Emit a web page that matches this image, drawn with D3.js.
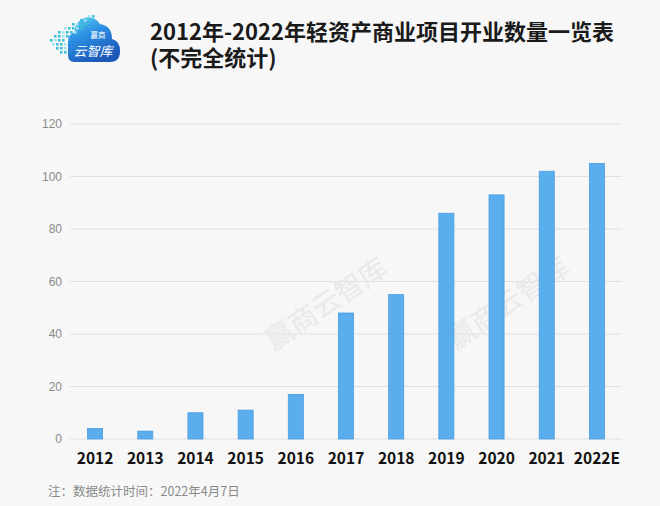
<!DOCTYPE html>
<html><head><meta charset="utf-8">
<script src="https://cdn.jsdelivr.net/npm/d3@7"></script>
<style>
html,body{margin:0;padding:0;background:#f7f7f7;}
svg{display:block;}
</style></head>
<body>
<script>
const categories = ["2012","2013","2014","2015","2016","2017","2018","2019","2020","2021","2022E"];
const values = [4,3,10,11,17,48,55,86,93,102,105];
const yTicks = [0,20,40,60,80,100,120];
const titleLines = ["2012年-2022年轻资产商业项目开业数量一览表","(不完全统计)"];
const footnote = "注：数据统计时间：2022年4月7日";
const watermarkText = "赢商云智库";

const W = 660, H = 506;
const svg = d3.select("body").append("svg").attr("width", W).attr("height", H);
svg.append("rect").attr("width", W).attr("height", H).attr("fill", "#f7f7f7");

const defs = svg.append("defs");
const g1 = defs.append("linearGradient").attr("id","cloudGrad").attr("x1","0").attr("y1","0").attr("x2","0.5").attr("y2","1");
g1.append("stop").attr("offset","0").attr("stop-color","#62d2f4");
g1.append("stop").attr("offset","0.45").attr("stop-color","#2b8fe2");
g1.append("stop").attr("offset","1").attr("stop-color","#1c58b8");

// Logo
const logo = svg.append("g");
logo.append("path")
  .attr("d","M74,62 L110,62 Q120,62 120,51 Q120,41 112,39 Q112,26 100,24 Q93,14 82,19 Q74,24 75,32 Q68,34 68,42 L68,55 Q68,62 74,62 Z")
  .attr("fill","url(#cloudGrad)");
const dots = [];
const rows = [[15,[88,92]],[19,[80,84,88]],[23,[72,76,80,84]],[27,[64,68,72,76,80]],[31,[58,62,66,70,74]],[35,[54,58,62,66]],[39,[50,54,58,62]],[43,[52,56,60,64]],[47,[56,60,64]],[51,[60,64]]];
rows.forEach(([y,xs])=>xs.forEach(x=>dots.push([x,y])));
logo.selectAll("rect.dot").data(dots).join("rect").attr("class","dot")
  .attr("x",d=>d[0]).attr("y",d=>d[1]).attr("width",2.6).attr("height",2.6)
  .attr("fill",(d,i)=> i%3===0 ? "#9be6f2" : "#3cc2d8");
logo.append("text").attr("x",98).attr("y",38).attr("text-anchor","middle")
  .attr("font-family","Noto Sans CJK SC").attr("font-size",7.5).attr("fill","#fff").text("赢商");
logo.append("text").attr("x",93).attr("y",56).attr("text-anchor","middle")
  .attr("font-family","Noto Sans CJK SC").attr("font-size",13).attr("font-style","italic").attr("fill","#fff").text("云智库");

// Title
const title = svg.append("text").attr("font-family","Noto Sans CJK SC, sans-serif")
  .attr("font-weight","bold").attr("font-size",22).attr("fill","#1a1a1a");
titleLines.forEach((t,i)=>title.append("tspan").attr("x",150).attr("y",40+i*26).text(t));

// Scales
const x = d3.scaleBand().domain(categories).range([70,622]).paddingInner(0.7).paddingOuter(0.35);
const y = d3.scaleLinear().domain([0,120]).range([439,124]);

// Gridlines
svg.append("g").selectAll("line").data(yTicks).join("line")
  .attr("x1",70).attr("x2",622).attr("y1",d=>y(d)).attr("y2",d=>y(d))
  .attr("stroke","#e0e0e0").attr("stroke-width",1);

// Y axis labels
const yAxis = svg.append("g").attr("transform","translate(62,0)")
  .call(d3.axisLeft(y).tickValues(yTicks).tickSize(0).tickPadding(0));
yAxis.select(".domain").remove();
yAxis.selectAll("text").attr("font-family","Liberation Sans Narrow, Arial Narrow, sans-serif")
  .attr("font-size",12).attr("fill","#8a8a8a");

// Watermarks
[[325,302],[507,301]].forEach(([cx,cy])=>{
  svg.append("text").attr("transform",`translate(${cx},${cy}) rotate(-34)`)
    .attr("text-anchor","middle").attr("dominant-baseline","central")
    .attr("font-family","Noto Sans CJK SC").attr("font-size",28)
    .attr("fill","#e9e9e9").text(watermarkText);
});

// Bars
svg.append("g").selectAll("rect").data(values).join("rect")
  .attr("x",(d,i)=>x(categories[i])).attr("width",x.bandwidth())
  .attr("y",d=>y(d)).attr("height",d=>y(0)-y(d))
  .attr("fill","#5aaeee").attr("stroke","#4a9be0").attr("stroke-width",0.8);

// X axis labels
const xAxis = svg.append("g").attr("transform","translate(0,451)")
  .call(d3.axisBottom(x).tickSize(0).tickPadding(0));
xAxis.select(".domain").remove();
xAxis.selectAll("text").attr("font-family","Noto Sans CJK SC, sans-serif").attr("font-weight","bold")
  .attr("font-size",15.5).attr("fill","#111").attr("dy","0.85em");

// Footnote
svg.append("text").attr("x",48).attr("y",496).attr("font-family","Noto Sans CJK SC, sans-serif")
  .attr("font-size",12.5).attr("fill","#8a8a8a").text(footnote);
</script>
</body></html>
